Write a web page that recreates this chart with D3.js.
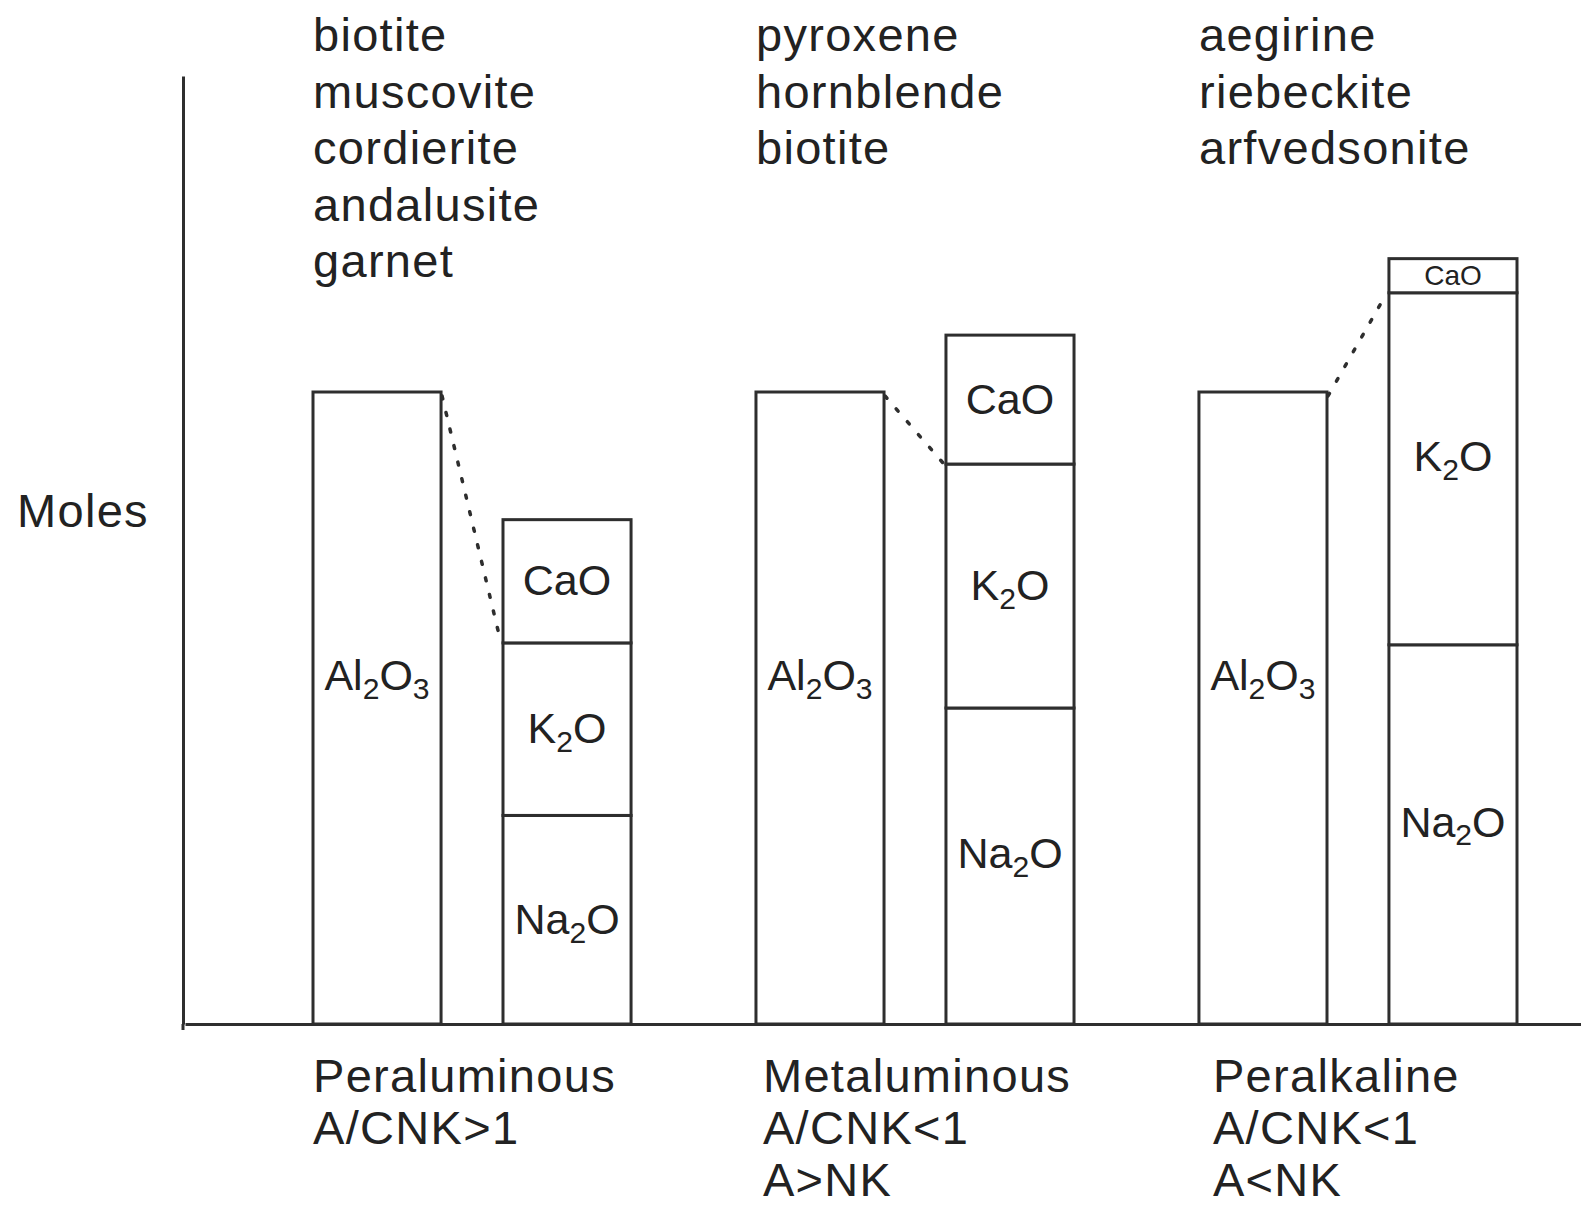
<!DOCTYPE html>
<html>
<head>
<meta charset="utf-8">
<script src="https://cdn.jsdelivr.net/npm/d3@7"></script>
<style>
  html, body { margin: 0; padding: 0; background: #fff; }
  svg { display: block; }
  text { font-family: "Liberation Sans", Arial, Helvetica, sans-serif; fill: #222; }
</style>
</head>
<body>
<svg id="chart" width="1581" height="1207"></svg>
<script>
// ---- data ----
const groups = ["Peraluminous", "Metaluminous", "Peralkaline"];
const conditions = [["A/CNK>1"], ["A/CNK<1", "A>NK"], ["A/CNK<1", "A<NK"]];
const minerals = [
  ["biotite", "muscovite", "cordierite", "andalusite", "garnet"],
  ["pyroxene", "hornblende", "biotite"],
  ["aegirine", "riebeckite", "arfvedsonite"]
];
const al2o3 = [100, 100, 100];
const na2o  = [33, 50, 60];
const k2o   = [27.3, 38.6, 55.7];
const cao   = [19.5, 20.4, 5.4];
const yLabel = "Moles";

// ---- layout ----
const W = 1581, H = 1207;
const svg = d3.select("#chart");
svg.append("rect").attr("width", W).attr("height", H).attr("fill", "#fff");

const x0 = d3.scaleBand().domain(groups).range([313, 1517]).paddingInner(0.282).paddingOuter(0);
const x1 = d3.scaleBand().domain(["A", "CNK"]).range([0, x0.bandwidth()]).paddingInner(0.326);
const y = d3.scaleLinear().domain([0, 150]).range([1024, 76]);

const stroke = "#2e2e2e";
const sw = 3;
const bigFont = 47;
const labFont = 43;

// axes
const yAxisG = svg.append("g").attr("transform", "translate(183,0)")
  .call(d3.axisLeft(y).tickValues([]).tickSizeOuter(0));
yAxisG.select(".domain").attr("stroke", stroke).attr("stroke-width", sw);
svg.append("line").attr("x1", 183).attr("x2", 183).attr("y1", y(0)).attr("y2", y(0) + 6)
  .attr("stroke", stroke).attr("stroke-width", sw);

const xBase = d3.scaleLinear().domain([0, 1]).range([185, W]);
const xAxisG = svg.append("g").attr("transform", `translate(0,${y(0)})`)
  .call(d3.axisBottom(xBase).tickValues([]).tickSizeOuter(0));
xAxisG.select(".domain").attr("stroke", stroke).attr("stroke-width", sw);

// y label
svg.append("text").attr("x", 17).attr("y", 527)
  .attr("font-size", bigFont).attr("letter-spacing", 1.3).text(yLabel);

// helper for chemical formula labels with subscripts
function formula(g, parts, x, yy, fs) {
  const t = g.append("text").attr("x", x).attr("y", yy).attr("text-anchor", "middle")
    .attr("font-size", fs);
  let shifted = false;
  parts.forEach(p => {
    const isSub = /^[0-9]$/.test(p);
    const ts = t.append("tspan").text(p);
    if (isSub) {
      ts.attr("font-size", fs * 0.7).attr("dy", fs * 0.2);
      shifted = true;
    } else if (shifted) {
      ts.attr("dy", -fs * 0.2);
      shifted = false;
    }
  });
  return t;
}
function splitFormula(s) { return s.match(/[A-Za-z]+|[0-9]/g); }

groups.forEach((g, i) => {
  const gx = x0(g);
  const bw = x1.bandwidth();
  const gEl = svg.append("g");

  // Al2O3 bar
  const ax = gx + x1("A");
  gEl.append("rect")
    .attr("x", ax).attr("y", y(al2o3[i]))
    .attr("width", bw).attr("height", y(0) - y(al2o3[i]))
    .attr("fill", "#fff").attr("stroke", stroke).attr("stroke-width", sw);
  formula(gEl, splitFormula("Al2O3"), ax + bw / 2, y(al2o3[i] * 0.55) + 14, labFont);

  // stacked Na2O, K2O, CaO
  const cx = gx + x1("CNK");
  const segs = [
    { name: "Na2O", v: na2o[i] },
    { name: "K2O", v: k2o[i] },
    { name: "CaO", v: cao[i] }
  ];
  let acc = 0;
  segs.forEach(s => {
    const lo = acc, hi = acc + s.v;
    acc = hi;
    gEl.append("rect")
      .attr("x", cx).attr("y", y(hi))
      .attr("width", bw).attr("height", y(lo) - y(hi))
      .attr("fill", "#fff").attr("stroke", stroke).attr("stroke-width", sw);
    const segH = y(lo) - y(hi);
    const fs = segH < 50 ? 28 : labFont;
    const cy = (y(lo) + y(hi)) / 2 + fs * 0.33 - (segH > 300 ? 12 : 0);
    formula(gEl, splitFormula(s.name), cx + bw / 2, cy, fs);
  });

  // dotted connector: Al2O3 top -> top of Na2O+K2O
  gEl.append("line")
    .attr("x1", ax + bw + 1).attr("y1", y(al2o3[i]) + 4)
    .attr("x2", cx - 2).attr("y2", y(na2o[i] + k2o[i]))
    .attr("stroke", stroke).attr("stroke-width", 3.5)
    .attr("stroke-dasharray", "3,14").attr("stroke-linecap", "round");

  // mineral list above
  minerals[i].forEach((m, j) => {
    svg.append("text").attr("x", gx).attr("y", 51 + j * 56.5)
      .attr("font-size", bigFont).attr("letter-spacing", 1.3).text(m);
  });

  // category labels below
  [g].concat(conditions[i]).forEach((t, j) => {
    svg.append("text").attr("x", gx + i * 7).attr("y", 1092 + j * 52)
      .attr("font-size", bigFont).attr("letter-spacing", 1.3).text(t);
  });
});
</script>
</body>
</html>
